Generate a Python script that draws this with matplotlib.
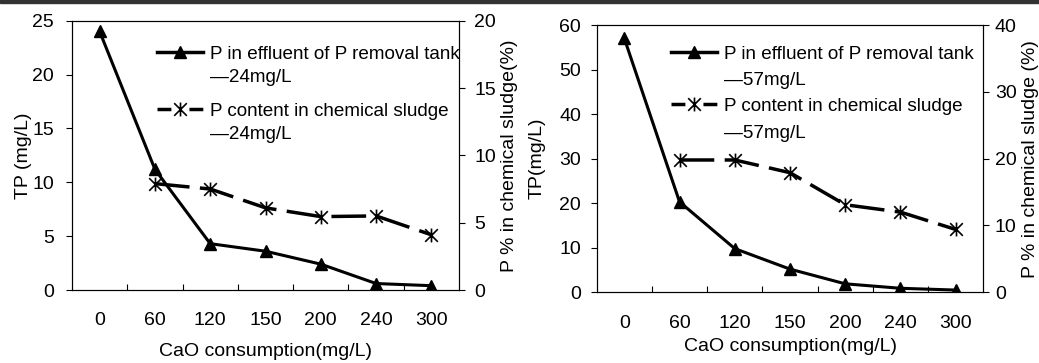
import numpy as np
import matplotlib
matplotlib.use("Agg")
import matplotlib.pyplot as plt
from matplotlib.lines import Line2D
from matplotlib.path import Path
from matplotlib.patches import Rectangle

plt.rcParams["font.family"] = ["Liberation Sans", "DejaVu Sans"]
plt.rcParams["font.size"] = 14

cao_doses = ["0", "60", "120", "150", "200", "240", "300"]

# panel a: 24 mg/L influent
tp_24 = [24.0, 11.2, 4.3, 3.6, 2.4, 0.6, 0.4]
sludge_24 = [7.9, 7.5, 6.1, 5.45, 5.5, 4.1]   # from 60 onward

# panel b: 57 mg/L influent
tp_57 = [57.0, 20.3, 9.8, 5.2, 1.9, 0.9, 0.5]
sludge_57 = [19.8, 19.8, 17.9, 13.1, 12.0, 9.4]

# excel style star: an X plus a vertical bar
star = Path([(-1, -1), (1, 1), (-1, 1), (1, -1), (0, -1.1), (0, 1.1)],
            [Path.MOVETO, Path.LINETO, Path.MOVETO, Path.LINETO, Path.MOVETO, Path.LINETO])

fig = plt.figure(figsize=(10.39, 3.63), dpi=100)
fig.patches.append(Rectangle((0, 1 - 3 / 363), 1, 3 / 363, transform=fig.transFigure,
                             color="#333333", zorder=10))


def draw_panel(rect, tp, sludge, conc, tp_max, tp_step, sl_max, sl_step,
               tp_label, sl_label, leg_x, leg_y1, leg_y2, spacing,
               tp_pads, sl_pads, xlab_pad):
    ax = fig.add_axes(rect)
    x = np.arange(len(cao_doses))
    ax.plot(x, tp, color="black", lw=2.2, marker="^", ms=8, zorder=3)
    ax.set_xlim(-0.5, len(cao_doses) - 0.5)
    ax.set_ylim(0, tp_max)
    ax.set_yticks(np.arange(0, tp_max + 0.1, tp_step))
    ax.set_xticks(x)
    ax.set_xticklabels(cao_doses)
    ax.set_xticks(np.arange(0.5, len(cao_doses) - 1, 1), minor=True)
    ax.tick_params(axis="x", which="major", length=0, pad=16)
    ax.tick_params(axis="x", which="minor", direction="in", length=4, width=0.8)
    ax.tick_params(axis="y", direction="out", length=4.3, width=0.8, pad=tp_pads[0])
    ax.set_ylabel(tp_label, labelpad=tp_pads[1])
    ax.set_xlabel("CaO consumption(mg/L)", labelpad=xlab_pad)

    ax2 = ax.twinx()
    ax2.plot(x[1:], sludge, color="black", lw=2.5, dashes=(10, 3),
             marker=star, ms=10, mew=1.2, mfc="none", mec="black", zorder=3)
    ax2.set_ylim(0, sl_max)
    ax2.set_yticks(np.arange(0, sl_max + 0.1, sl_step))
    ax2.tick_params(axis="y", direction="out", length=4.3, width=0.8, pad=sl_pads[0])
    ax2.set_ylabel(sl_label, labelpad=sl_pads[1])
    for a in (ax, ax2):
        for s in a.spines.values():
            s.set_linewidth(0.8)

    blank = Line2D([], [], linestyle="none")
    h1 = Line2D([], [], color="black", lw=2.5, marker="^", ms=8)
    h2 = Line2D([], [], color="black", lw=2.5, dashes=(4.0, 5.2),
                marker=star, ms=10, mew=1.2, mfc="none", mec="black")
    opts = dict(loc="upper left", frameon=False, borderpad=0, borderaxespad=0,
                handlelength=2.45, handletextpad=0.35, labelspacing=spacing,
                fontsize=13.6)
    leg1 = ax2.legend([h1, blank], ["P in effluent of P removal tank", "\u2014" + conc],
                      bbox_to_anchor=(leg_x, leg_y1), **opts)
    ax2.add_artist(leg1)
    ax2.legend([h2, blank], ["P content in chemical sludge", "\u2014" + conc],
               bbox_to_anchor=(leg_x, leg_y2), **opts)
    return ax, ax2


draw_panel([0.0693, 0.2011, 0.3725, 0.7419], tp_24, sludge_24, "24mg/L",
           25, 5, 20, 5, "TP (mg/L)", "P % in chemical sludge(%)",
           0.22, 0.908, 0.696, 0.3, (8.5, 0.5), (6.5, 4), 10)
draw_panel([0.5743, 0.1948, 0.3721, 0.7363], tp_57, sludge_57, "57mg/L",
           60, 10, 40, 10, "TP(mg/L)", "P % in chemical sludge (%)",
           0.192, 0.923, 0.728, 0.5, (7, 9.5), (4, 4), 5)

fig.savefig("out.png", dpi=100)
